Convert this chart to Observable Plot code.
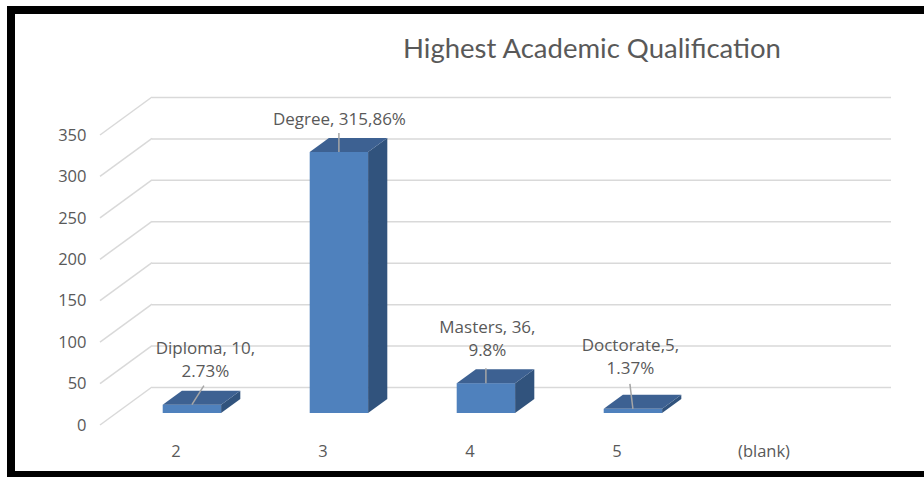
<!DOCTYPE html>
<html>
<head>
<meta charset="utf-8">
<script src="https://cdn.jsdelivr.net/npm/d3@7"></script>
<script src="https://cdn.jsdelivr.net/npm/@observablehq/plot@0.6"></script>
<style>
  html, body { margin: 0; padding: 0; background: #fff; }
  #frame {
    position: absolute; left: 7px; top: 6px; width: 909px;
    border-left: 8px solid #000; border-top: 8px solid #000; border-bottom: 6px solid #000;
    background: #fff;
  }
  #title {
    box-sizing: border-box; width: 909px; height: 66px; padding-left: 245px;
    display: flex; align-items: center; justify-content: center;
    font-family: Lato, "Open Sans", sans-serif; font-size: 27.5px; color: #595959;
  }
  #chart svg { display: block; }
</style>
</head>
<body>
<div id="frame">
  <div id="title">Highest Academic Qualification</div>
  <div id="chart"></div>
</div>
<script>
// ---- data ----
const categories = ["2", "3", "4", "5", "(blank)"];
const barCategories = ["2", "3", "4", "5"];
const qualifications = ["Diploma", "Degree", "Masters", "Doctorate"];
const counts = [10, 315, 36, 5];
const labelLines = [["Diploma, 10,", "2.73%"], ["Degree, 315,86%"], ["Masters, 36,", "9.8%"], ["Doctorate,5,", "1.37%"]];
const yTicks = [0, 50, 100, 150, 200, 250, 300, 350];

// ---- layout (pixels) ----
const W = 909, H = 391;
const M = {top: 55, right: 85, bottom: 46, left: 85};
const wallDX = 52, wallDY = -38;          // depth of the floor / back wall
const barDX = 16.4, barDY = -12;           // front face of the bars
const depthDX = 19.2, depthDY = -14;       // bar thickness in depth
const barInset = 44.3;
const labelOffsets = [[13, -47.5], [0, -35], [1, -46.5], [-3, -54.5]];
const leaderStarts = [[12, -19], [0, -19], [0, -15], [-3, -25]];

const textColor = "#595959";
const gridColor = "#d9d9d9";
const frontColor = "#4F81BD", topColor = "#3D6192", sideColor = "#31537D";
const font = "'Open Sans', sans-serif";

const idx = d3.range(counts.length);

function bandInfo(scales, dims) {
  const x = scales.x;
  const bw = x.bandwidth ? x.bandwidth() : (dims.width - dims.marginLeft - dims.marginRight) / categories.length;
  return {x, bw};
}

// diagonal grid lines on the left side wall
function sideGrid(index, scales, values, dims) {
  const y = scales.y;
  const g = d3.create("svg:g").attr("stroke", gridColor).attr("stroke-width", 1.5).attr("fill", "none");
  for (const t of yTicks) {
    const x0 = dims.marginLeft, y0 = y(t);
    g.append("line").attr("x1", x0).attr("y1", y0).attr("x2", x0 + wallDX).attr("y2", y0 + wallDY);
  }
  return g.node();
}

// top and side faces of the 3D bars
function barFaces(index, scales, values, dims) {
  const {x, bw} = bandInfo(scales, dims);
  const y = scales.y;
  const g = d3.create("svg:g");
  idx.forEach(i => {
    const xl = x(barCategories[i]) + barInset + barDX;
    const xr = x(barCategories[i]) + bw - barInset + barDX;
    const yt = y(counts[i]) + barDY;
    const yb = y(0) + barDY;
    g.append("polygon")
      .attr("points", [[xr, yt], [xr + depthDX, yt + depthDY], [xr + depthDX, yb + depthDY], [xr, yb]].join(" "))
      .attr("fill", sideColor);
    g.append("polygon")
      .attr("points", [[xl, yt], [xr, yt], [xr + depthDX, yt + depthDY], [xl + depthDX, yt + depthDY]].join(" "))
      .attr("fill", topColor);
  });
  return g.node();
}

// leader lines from labels to bars
function leaders(index, scales, values, dims) {
  const {x, bw} = bandInfo(scales, dims);
  const y = scales.y;
  const g = d3.create("svg:g").attr("stroke", "#a6a6a6").attr("stroke-width", 1.5);
  idx.forEach(i => {
    const cx = x(barCategories[i]) + bw / 2 + barDX;
    const cy = y(counts[i]) + barDY;
    g.append("line")
      .attr("x1", cx + leaderStarts[i][0]).attr("y1", cy + leaderStarts[i][1])
      .attr("x2", cx).attr("y2", cy);
  });
  return g.node();
}

const labelMarks = idx.map(i => Plot.text([i], {
  x: d => barCategories[d],
  y: d => counts[d],
  text: d => labelLines[d].join("\n"),
  dx: barDX + labelOffsets[i][0],
  dy: barDY + labelOffsets[i][1],
  lineAnchor: "middle",
  lineHeight: 1.35,
  fill: textColor,
  fontSize: 17,
  textAnchor: "middle"
}));

const plot = Plot.plot({
  width: W,
  height: H,
  marginTop: M.top, marginRight: M.right, marginBottom: M.bottom, marginLeft: M.left,
  style: {fontFamily: font, color: textColor, background: "transparent", overflow: "visible"},
  x: {type: "band", domain: categories, padding: 0, label: null},
  y: {domain: [0, 350], label: null},
  marks: [
    Plot.ruleY(yTicks, {stroke: gridColor, strokeWidth: 1.5, dx: wallDX, dy: wallDY}),
    sideGrid,
    Plot.barY(idx, {
      x: i => barCategories[i], y: i => counts[i], fill: frontColor,
      insetLeft: barInset, insetRight: barInset, dx: barDX, dy: barDY
    }),
    barFaces,
    leaders,
    ...labelMarks,
    Plot.axisY({ticks: yTicks, tickSize: 0, tickPadding: 14, fontSize: 16.5, label: null}),
    Plot.axisX({tickSize: 0, tickPadding: 20, fontSize: 16.5, label: null})
  ]
});
document.getElementById("chart").appendChild(plot);
</script>
</body>
</html>
